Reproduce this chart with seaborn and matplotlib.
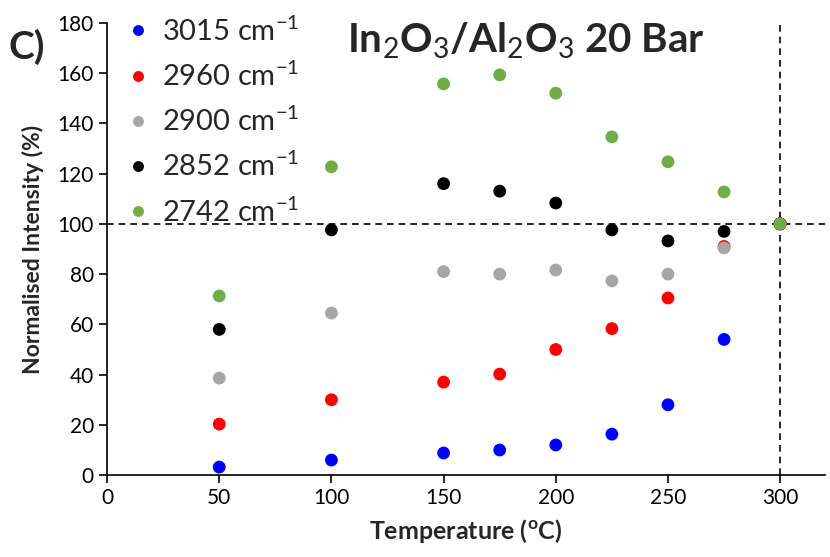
import matplotlib
matplotlib.use("Agg")
import matplotlib.pyplot as plt
import seaborn as sns
import pandas as pd

temperature = [50, 100, 150, 175, 200, 225, 250, 275, 300]
series_labels = ["3015 cm$^{-1}$", "2960 cm$^{-1}$", "2900 cm$^{-1}$", "2852 cm$^{-1}$", "2742 cm$^{-1}$"]
s3015 = [3.2, 6.0, 8.8, 10.0, 12.0, 16.3, 28.0, 54.0, 100.0]
s2960 = [20.3, 30.0, 37.0, 40.2, 50.0, 58.3, 70.5, 91.0, 100.0]
s2900 = [38.6, 64.5, 81.0, 80.0, 81.6, 77.3, 80.0, 90.4, 100.0]
s2852 = [58.0, 97.6, 116.0, 113.0, 108.3, 97.6, 93.2, 97.0, 100.0]
s2742 = [71.3, 122.7, 155.7, 159.3, 152.0, 134.6, 124.7, 112.7, 100.0]
colors = ["#0000FF", "#FF0000", "#A6A6A6", "#000000", "#70AD47"]
xticks = [0, 50, 100, 150, 200, 250, 300]
yticks = [0, 20, 40, 60, 80, 100, 120, 140, 160, 180]

rows = []
for lab, vals in zip(series_labels, [s3015, s2960, s2900, s2852, s2742]):
    for t, v in zip(temperature, vals):
        rows.append({"Temperature": t, "Intensity": v, "Series": lab})
df = pd.DataFrame(rows)

sns.set_style("white")
plt.rcParams["font.family"] = ["Lato", "DejaVu Sans"]
plt.rcParams["mathtext.fontset"] = "custom"
plt.rcParams["mathtext.rm"] = "Lato"
plt.rcParams["mathtext.it"] = "Lato:italic"
plt.rcParams["mathtext.bf"] = "Lato:bold"

fig = plt.figure(figsize=(8.3, 5.57), dpi=100)
ax = fig.add_axes([0.129, 0.147, 0.865, 0.812])

ax.axhline(100, color="black", linestyle=(0, (4, 3)), linewidth=1.2, zorder=1)
ax.axvline(300, color="black", linestyle=(0, (4, 3)), linewidth=1.2, zorder=1)

sns.scatterplot(data=df, x="Temperature", y="Intensity", hue="Series",
                hue_order=series_labels, palette=colors, s=85,
                edgecolor="none", ax=ax, zorder=3)

ax.set_xlim(0, 320)
ax.set_ylim(0, 180)
ax.set_xticks(xticks)
ax.set_yticks(yticks)
ax.tick_params(axis="both", labelsize=15, direction="out", length=6, width=1.2,
               left=True, bottom=True, colors="black")
for side in ["top", "right"]:
    ax.spines[side].set_visible(False)
for side in ["left", "bottom"]:
    ax.spines[side].set_color("black")
    ax.spines[side].set_linewidth(1.2)

ax.set_xlabel("Temperature ($^{\\mathregular{o}}$C)", fontsize=18, fontweight="bold", labelpad=6)
ax.set_ylabel("Normalised Intensity (%)", fontsize=16.5, fontweight="bold", labelpad=10)

leg = ax.legend(loc="upper left", bbox_to_anchor=(0.01, 1.04), frameon=False,
                fontsize=21, handlelength=0.8, handletextpad=0.45, labelspacing=0.55,
                markerscale=0.85, borderaxespad=0)

fig.text(0.633, 0.927, "In$_2$O$_3$/Al$_2$O$_3$ 20 Bar", fontsize=29, fontweight="bold",
         ha="center", va="center")
fig.text(0.01, 0.915, "C)", fontsize=28, fontweight="bold", ha="left", va="center")

fig.savefig("out.png", dpi=100)
